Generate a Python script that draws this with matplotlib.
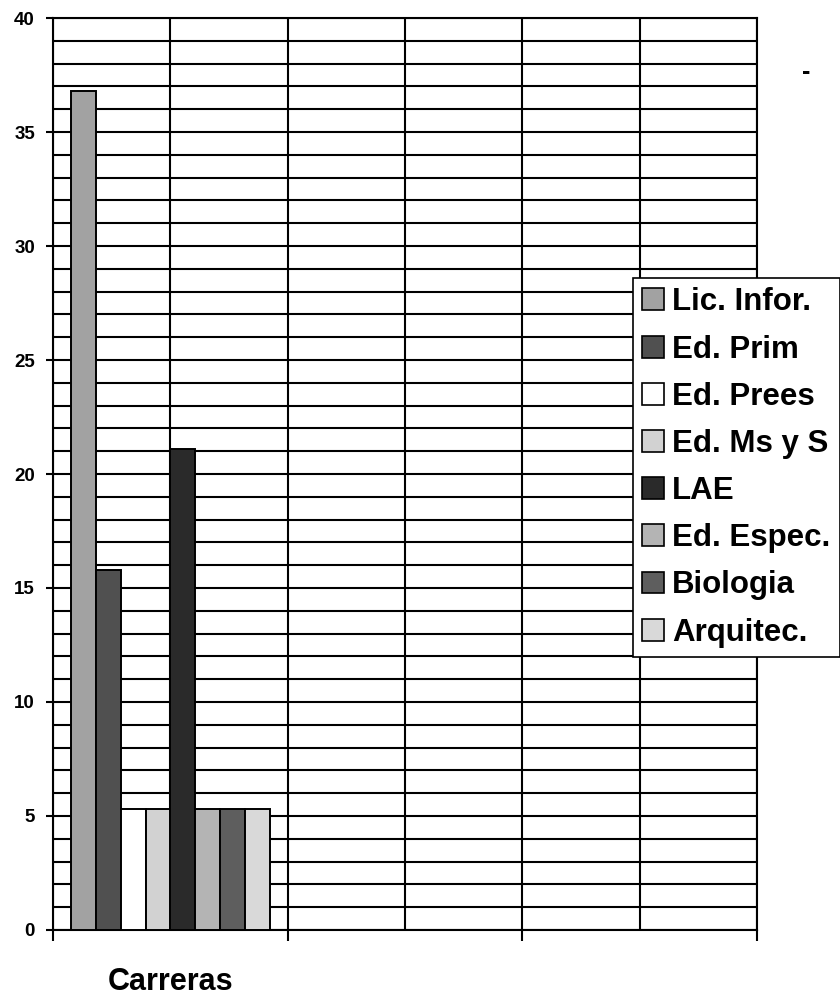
import matplotlib
matplotlib.use("Agg")
import matplotlib.pyplot as plt
from matplotlib.ticker import MultipleLocator, FixedLocator
import numpy as np

categories = ["Carreras", "", ""]
series = ["Lic. Infor.", "Ed. Prim", "Ed. Prees", "Ed. Ms y S", "LAE",
          "Ed. Espec.", "Biologia", "Arquitec."]
values = [36.8, 15.8, 5.3, 5.3, 21.1, 5.3, 5.3, 5.3]
colors = ["#a2a2a2", "#505050", "#ffffff", "#d2d2d2", "#2a2a2a",
          "#b4b4b4", "#5e5e5e", "#d9d9d9"]
y_ticks = [0, 5, 10, 15, 20, 25, 30, 35, 40]

plt.rcParams['font.family'] = ['Liberation Sans', 'DejaVu Sans']
plt.rcParams['font.weight'] = 'bold'

fig = plt.figure(figsize=(8.4, 9.96), dpi=100)
ax = fig.add_axes([53/840, 1 - 930/996, (757-53)/840, (930-18)/996])

n = len(series)
group_w = 0.846
bw = group_w / n
x0 = 0
for i, (s, v, c) in enumerate(zip(series, values, colors)):
    xpos = x0 - group_w/2 + bw*(i + 0.5)
    ax.bar(xpos, v, width=bw, color=c, edgecolor='black', linewidth=1.4,
           label=s, zorder=3)

ax.set_xlim(-0.5, len(categories) - 0.5)
ax.set_ylim(0, 40)

# y axis
ax.set_yticks(y_ticks)
ax.yaxis.set_minor_locator(MultipleLocator(1))
ax.tick_params(axis='y', which='major', direction='out', length=5, width=1.5,
               labelsize=13.5, pad=8, colors='black')
ax.tick_params(axis='y', which='minor', length=0)
for lab in ax.get_yticklabels():
    lab.set_fontweight('bold')

# x axis: boundaries as major ticks, category labels as minor
bounds = np.arange(len(categories) + 1) - 0.5
ax.xaxis.set_major_locator(FixedLocator(bounds))
ax.set_xticklabels([""] * len(bounds))
ax.set_xticks(np.arange(len(categories)), labels=categories, minor=True)
ax.tick_params(axis='x', which='major', direction='out', length=8, width=1.5)
ax.tick_params(axis='x', which='minor', length=0, pad=27, labelsize=22)
for lab in ax.get_xticklabels(minor=True):
    lab.set_fontweight('bold')

# gridlines
for yv in np.arange(0, 41, 1):
    ax.axhline(yv, color='black', linewidth=1.5, zorder=1)
for xv in np.arange(-0.5, len(categories), 0.5):
    ax.axvline(xv, color='black', linewidth=1.5, zorder=1)

for sp in ax.spines.values():
    sp.set_color('black')
    sp.set_linewidth(1.5)

leg = fig.legend(loc='upper left', bbox_to_anchor=(633/840, 1 - 278/996),
                 bbox_transform=fig.transFigure,
                 prop={'weight': 'bold', 'size': 22.5},
                 frameon=True, fancybox=False, edgecolor='black',
                 framealpha=1, borderpad=0.3, handlelength=0.7,
                 handleheight=0.7, handletextpad=0.25, labelspacing=0.55,
                 borderaxespad=0)
leg.get_frame().set_linewidth(1.2)
for h in leg.legend_handles:
    h.set_linewidth(1.2)

fig.text(806/840, 1 - 72/996, "-", fontsize=18, fontweight='bold',
         ha='center', va='center')

fig.savefig("out.png", dpi=100)
